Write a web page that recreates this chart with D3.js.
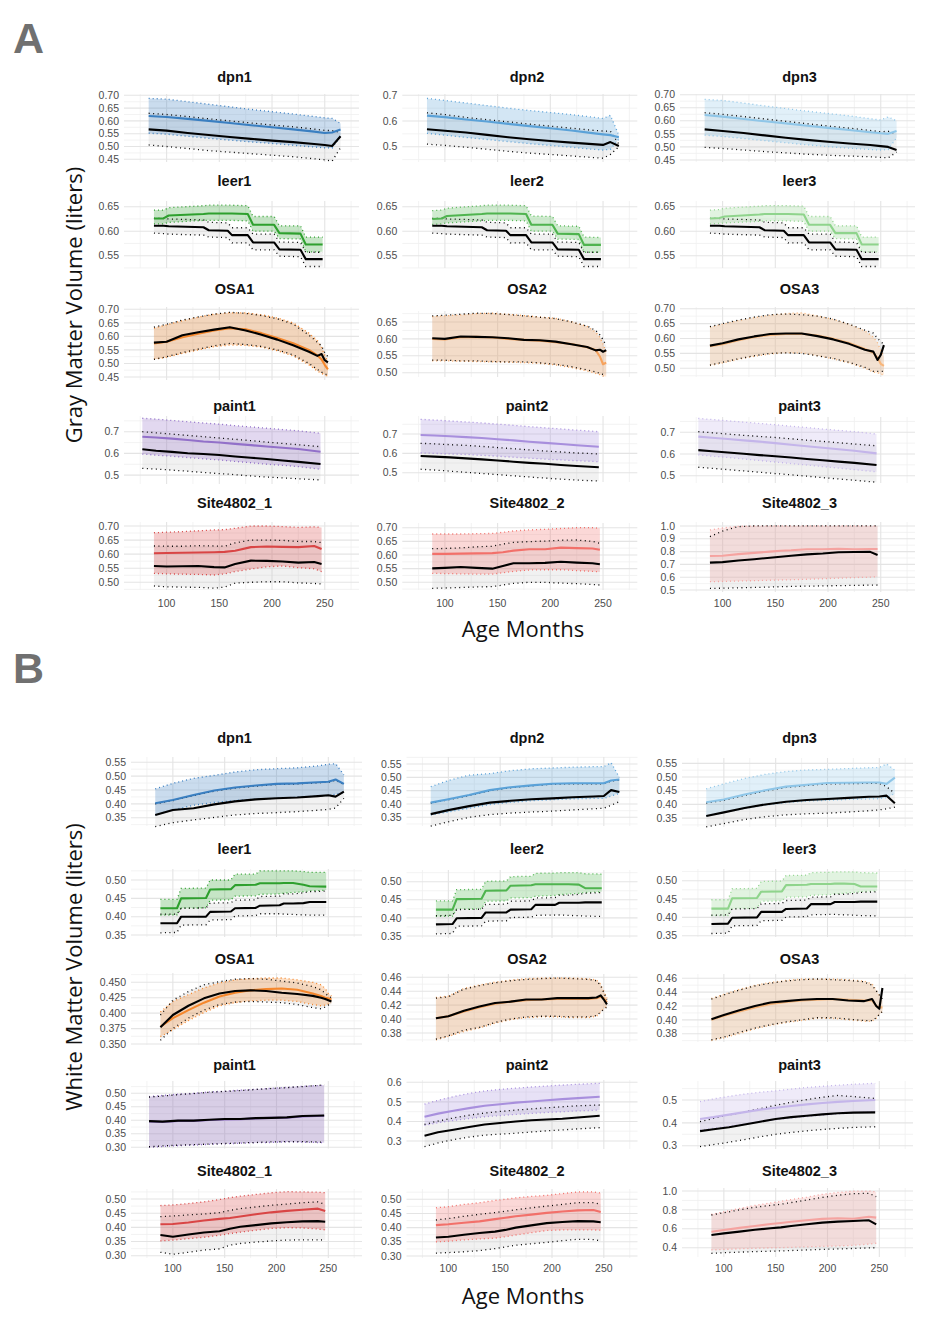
<!DOCTYPE html>
<html>
<head>
<meta charset="utf-8">
<script src="https://cdn.jsdelivr.net/npm/d3@7"></script>
<style>
  body { margin: 0; background: #fff; }
  svg text { font-family: "Liberation Sans", Arial, sans-serif; }
</style>
</head>
<body>
<svg id="chart" width="947" height="1334"></svg>
<script>
// ---------------- data ----------------
const siteNames = ["dpn1", "dpn2", "dpn3", "leer1", "leer2", "leer3", "OSA1", "OSA2", "OSA3",
  "paint1", "paint2", "paint3", "Site4802_1", "Site4802_2", "Site4802_3"];

// ages (months) at which the curves were read, one list per site group
const ageDpn = [83, 100, 120, 140, 160, 180, 200, 220, 240, 250, 257, 265];
const ageLeerGM = [88, 97, 102, 135, 140, 158, 162, 177, 182, 202, 207, 227, 232, 248];
const ageLeerWM = [88, 104, 108, 132, 136, 156, 160, 180, 184, 203, 207, 216, 226, 232, 248];
const ageOsa = [88, 100, 115, 130, 145, 160, 175, 190, 205, 220, 235, 243, 247, 250, 253];
const agePaint = [77, 90, 105, 120, 135, 150, 165, 180, 195, 210, 225, 246];
const ageSite = [88, 100, 115, 130, 145, 155, 165, 180, 195, 210, 225, 240, 247];

// each panel: [site mean, site lower, site upper, reference mean, reference lower, reference upper]
// ---- A: gray matter ----
const gmDpn1 = [
  [0.619, 0.615, 0.608, 0.600, 0.592, 0.583, 0.575, 0.567, 0.558, 0.553, 0.555, 0.566],
  [0.552, 0.548, 0.540, 0.532, 0.525, 0.518, 0.512, 0.505, 0.498, 0.495, 0.494, 0.540],
  [0.688, 0.685, 0.675, 0.665, 0.655, 0.645, 0.636, 0.627, 0.617, 0.612, 0.610, 0.590],
  [0.567, 0.562, 0.553, 0.545, 0.537, 0.530, 0.523, 0.517, 0.510, 0.506, 0.502, 0.540],
  [0.506, 0.500, 0.492, 0.484, 0.478, 0.472, 0.466, 0.460, 0.452, 0.448, 0.443, 0.495],
  [0.630, 0.625, 0.617, 0.608, 0.600, 0.592, 0.584, 0.577, 0.568, 0.563, 0.562, 0.555]];
const gmDpn2 = [
  [0.621, 0.615, 0.606, 0.598, 0.589, 0.580, 0.572, 0.563, 0.553, 0.548, 0.545, 0.537],
  [0.552, 0.545, 0.536, 0.528, 0.520, 0.512, 0.505, 0.498, 0.490, 0.487, 0.490, 0.530],
  [0.688, 0.680, 0.670, 0.660, 0.650, 0.641, 0.633, 0.625, 0.615, 0.610, 0.622, 0.545],
  [0.568, 0.562, 0.555, 0.546, 0.537, 0.529, 0.522, 0.516, 0.510, 0.507, 0.518, 0.503],
  [0.510, 0.505, 0.498, 0.490, 0.482, 0.475, 0.470, 0.464, 0.458, 0.455, 0.470, 0.500],
  [0.632, 0.625, 0.614, 0.605, 0.597, 0.588, 0.580, 0.572, 0.564, 0.561, 0.560, 0.510]];
const gmDpn3 = [
  [0.622, 0.616, 0.607, 0.598, 0.590, 0.581, 0.573, 0.565, 0.556, 0.552, 0.550, 0.561],
  [0.545, 0.540, 0.532, 0.524, 0.516, 0.508, 0.501, 0.495, 0.490, 0.488, 0.490, 0.535],
  [0.682, 0.678, 0.668, 0.657, 0.647, 0.637, 0.628, 0.619, 0.608, 0.603, 0.615, 0.600],
  [0.567, 0.561, 0.553, 0.544, 0.535, 0.527, 0.520, 0.513, 0.507, 0.503, 0.500, 0.488],
  [0.498, 0.494, 0.488, 0.482, 0.477, 0.472, 0.468, 0.465, 0.462, 0.460, 0.458, 0.480],
  [0.631, 0.625, 0.616, 0.607, 0.598, 0.589, 0.580, 0.572, 0.563, 0.558, 0.560, 0.550]];
const gmLeer1 = [
  [0.626, 0.626, 0.632, 0.635, 0.636, 0.636, 0.636, 0.635, 0.613, 0.613, 0.596, 0.595, 0.573, 0.573],
  [0.615, 0.615, 0.618, 0.622, 0.622, 0.622, 0.622, 0.621, 0.600, 0.600, 0.585, 0.584, 0.558, 0.558],
  [0.643, 0.643, 0.648, 0.652, 0.653, 0.653, 0.653, 0.652, 0.630, 0.630, 0.611, 0.611, 0.588, 0.588],
  [0.611, 0.611, 0.610, 0.608, 0.602, 0.601, 0.592, 0.592, 0.577, 0.577, 0.563, 0.562, 0.543, 0.543],
  [0.596, 0.595, 0.594, 0.592, 0.588, 0.587, 0.576, 0.576, 0.562, 0.562, 0.549, 0.548, 0.528, 0.528],
  [0.626, 0.626, 0.625, 0.623, 0.618, 0.617, 0.607, 0.607, 0.594, 0.594, 0.578, 0.577, 0.557, 0.557]];
const gmLeer2 = [
  [0.625, 0.626, 0.631, 0.635, 0.636, 0.636, 0.636, 0.635, 0.613, 0.613, 0.595, 0.594, 0.572, 0.572],
  [0.614, 0.615, 0.617, 0.621, 0.622, 0.622, 0.622, 0.621, 0.600, 0.600, 0.584, 0.583, 0.557, 0.557],
  [0.642, 0.643, 0.647, 0.652, 0.653, 0.653, 0.653, 0.652, 0.631, 0.630, 0.611, 0.610, 0.588, 0.587],
  [0.611, 0.611, 0.610, 0.608, 0.602, 0.601, 0.592, 0.592, 0.577, 0.577, 0.563, 0.562, 0.543, 0.543],
  [0.596, 0.595, 0.594, 0.592, 0.588, 0.587, 0.576, 0.576, 0.562, 0.562, 0.549, 0.548, 0.528, 0.528],
  [0.626, 0.626, 0.625, 0.623, 0.618, 0.617, 0.607, 0.607, 0.594, 0.594, 0.578, 0.577, 0.557, 0.557]];
const gmLeer3 = [
  [0.626, 0.627, 0.630, 0.634, 0.635, 0.635, 0.635, 0.634, 0.613, 0.613, 0.596, 0.596, 0.573, 0.573],
  [0.615, 0.616, 0.617, 0.620, 0.621, 0.621, 0.621, 0.620, 0.600, 0.600, 0.585, 0.584, 0.558, 0.558],
  [0.643, 0.644, 0.647, 0.651, 0.652, 0.652, 0.652, 0.651, 0.630, 0.630, 0.611, 0.611, 0.588, 0.588],
  [0.611, 0.611, 0.610, 0.608, 0.602, 0.601, 0.592, 0.592, 0.577, 0.577, 0.563, 0.562, 0.543, 0.543],
  [0.596, 0.595, 0.594, 0.592, 0.588, 0.587, 0.576, 0.576, 0.562, 0.562, 0.549, 0.548, 0.528, 0.528],
  [0.626, 0.626, 0.625, 0.623, 0.618, 0.617, 0.607, 0.607, 0.594, 0.594, 0.578, 0.577, 0.557, 0.557]];
const gmOsa1 = [
  [0.574, 0.580, 0.597, 0.610, 0.622, 0.630, 0.626, 0.612, 0.594, 0.575, 0.550, 0.530, 0.515, 0.495, 0.478],
  [0.515, 0.523, 0.537, 0.550, 0.562, 0.568, 0.567, 0.560, 0.547, 0.528, 0.495, 0.472, 0.463, 0.458, 0.452],
  [0.630, 0.643, 0.658, 0.671, 0.682, 0.687, 0.687, 0.680, 0.668, 0.650, 0.612, 0.585, 0.560, 0.530, 0.505],
  [0.577, 0.580, 0.604, 0.615, 0.625, 0.634, 0.622, 0.606, 0.588, 0.567, 0.543, 0.528, 0.535, 0.512, 0.504],
  [0.515, 0.525, 0.540, 0.553, 0.565, 0.574, 0.570, 0.563, 0.550, 0.532, 0.500, 0.478, 0.468, 0.462, 0.457],
  [0.634, 0.645, 0.660, 0.672, 0.682, 0.689, 0.685, 0.677, 0.665, 0.645, 0.605, 0.578, 0.565, 0.540, 0.525]];
const gmOsa2 = [
  [0.600, 0.598, 0.605, 0.606, 0.604, 0.600, 0.597, 0.595, 0.590, 0.585, 0.575, 0.567, 0.548, 0.525, 0.530],
  [0.535, 0.535, 0.534, 0.533, 0.532, 0.531, 0.530, 0.527, 0.523, 0.515, 0.505, 0.498, 0.494, 0.490, 0.488],
  [0.666, 0.668, 0.671, 0.675, 0.676, 0.673, 0.669, 0.665, 0.661, 0.651, 0.637, 0.620, 0.605, 0.585, 0.560],
  [0.602, 0.600, 0.607, 0.606, 0.605, 0.602, 0.597, 0.596, 0.592, 0.584, 0.576, 0.566, 0.568, 0.562, 0.567],
  [0.537, 0.537, 0.535, 0.535, 0.533, 0.532, 0.532, 0.529, 0.525, 0.518, 0.508, 0.502, 0.498, 0.495, 0.495],
  [0.668, 0.670, 0.673, 0.676, 0.675, 0.672, 0.668, 0.664, 0.660, 0.650, 0.638, 0.625, 0.612, 0.598, 0.580]];
const gmOsa3 = [
  [0.574, 0.581, 0.594, 0.605, 0.612, 0.615, 0.616, 0.610, 0.599, 0.585, 0.565, 0.552, 0.535, 0.515, 0.508],
  [0.509, 0.518, 0.530, 0.540, 0.548, 0.552, 0.552, 0.542, 0.532, 0.518, 0.500, 0.487, 0.485, 0.480, 0.478],
  [0.638, 0.648, 0.660, 0.670, 0.678, 0.684, 0.686, 0.676, 0.664, 0.648, 0.625, 0.605, 0.585, 0.560, 0.540],
  [0.576, 0.584, 0.597, 0.607, 0.615, 0.617, 0.617, 0.608, 0.597, 0.582, 0.562, 0.556, 0.528, 0.545, 0.578],
  [0.511, 0.520, 0.532, 0.542, 0.550, 0.552, 0.550, 0.542, 0.533, 0.520, 0.503, 0.490, 0.490, 0.490, 0.490],
  [0.640, 0.650, 0.662, 0.672, 0.680, 0.682, 0.680, 0.675, 0.665, 0.648, 0.628, 0.618, 0.600, 0.590, 0.580]];
const gmPaint1 = [
  [0.677, 0.673, 0.668, 0.662, 0.655, 0.650, 0.644, 0.638, 0.632, 0.626, 0.620, 0.608],
  [0.597, 0.592, 0.587, 0.581, 0.575, 0.570, 0.563, 0.557, 0.550, 0.545, 0.539, 0.527],
  [0.762, 0.758, 0.752, 0.746, 0.740, 0.735, 0.728, 0.722, 0.716, 0.710, 0.704, 0.693],
  [0.619, 0.612, 0.607, 0.601, 0.597, 0.593, 0.586, 0.580, 0.574, 0.567, 0.561, 0.551],
  [0.531, 0.528, 0.523, 0.518, 0.512, 0.507, 0.502, 0.496, 0.491, 0.487, 0.483, 0.478],
  [0.700, 0.695, 0.689, 0.683, 0.677, 0.671, 0.665, 0.659, 0.652, 0.646, 0.640, 0.631]];
const gmPaint2 = [
  [0.695, 0.692, 0.688, 0.684, 0.679, 0.673, 0.667, 0.660, 0.654, 0.648, 0.642, 0.634],
  [0.602, 0.600, 0.597, 0.594, 0.590, 0.585, 0.580, 0.575, 0.570, 0.566, 0.562, 0.557],
  [0.776, 0.772, 0.767, 0.762, 0.757, 0.751, 0.745, 0.738, 0.732, 0.726, 0.720, 0.712],
  [0.586, 0.583, 0.579, 0.574, 0.569, 0.563, 0.557, 0.551, 0.546, 0.540, 0.535, 0.528],
  [0.518, 0.514, 0.508, 0.502, 0.496, 0.490, 0.484, 0.478, 0.472, 0.467, 0.462, 0.457],
  [0.652, 0.649, 0.645, 0.641, 0.636, 0.630, 0.624, 0.618, 0.612, 0.607, 0.602, 0.597]];
const gmPaint3 = [
  [0.680, 0.675, 0.669, 0.663, 0.657, 0.650, 0.643, 0.636, 0.629, 0.622, 0.615, 0.603],
  [0.596, 0.590, 0.584, 0.577, 0.570, 0.563, 0.556, 0.549, 0.542, 0.535, 0.528, 0.518],
  [0.764, 0.759, 0.753, 0.747, 0.741, 0.735, 0.728, 0.722, 0.715, 0.709, 0.703, 0.692],
  [0.618, 0.613, 0.607, 0.601, 0.595, 0.590, 0.584, 0.577, 0.571, 0.565, 0.559, 0.549],
  [0.539, 0.534, 0.528, 0.522, 0.516, 0.510, 0.504, 0.498, 0.491, 0.485, 0.479, 0.470],
  [0.703, 0.698, 0.692, 0.686, 0.681, 0.676, 0.670, 0.664, 0.658, 0.652, 0.646, 0.638]];
const gmSite1 = [
  [0.603, 0.604, 0.605, 0.606, 0.607, 0.608, 0.612, 0.625, 0.627, 0.626, 0.625, 0.629, 0.618],
  [0.532, 0.530, 0.529, 0.528, 0.526, 0.530, 0.538, 0.547, 0.555, 0.558, 0.552, 0.548, 0.538],
  [0.676, 0.678, 0.680, 0.683, 0.686, 0.687, 0.692, 0.700, 0.700, 0.698, 0.695, 0.697, 0.695],
  [0.558, 0.556, 0.557, 0.558, 0.554, 0.553, 0.565, 0.577, 0.576, 0.574, 0.570, 0.572, 0.565],
  [0.487, 0.484, 0.483, 0.482, 0.479, 0.483, 0.497, 0.500, 0.502, 0.502, 0.498, 0.496, 0.494],
  [0.629, 0.628, 0.628, 0.630, 0.629, 0.628, 0.640, 0.650, 0.650, 0.649, 0.645, 0.645, 0.641]];
const gmSite2 = [
  [0.604, 0.604, 0.605, 0.606, 0.607, 0.610, 0.616, 0.621, 0.621, 0.627, 0.625, 0.624, 0.619],
  [0.533, 0.532, 0.531, 0.530, 0.530, 0.535, 0.540, 0.545, 0.546, 0.546, 0.543, 0.540, 0.538],
  [0.677, 0.677, 0.677, 0.678, 0.679, 0.683, 0.688, 0.692, 0.694, 0.697, 0.700, 0.700, 0.698],
  [0.551, 0.553, 0.556, 0.553, 0.550, 0.560, 0.570, 0.570, 0.571, 0.575, 0.572, 0.570, 0.566],
  [0.478, 0.479, 0.481, 0.483, 0.484, 0.490, 0.496, 0.500, 0.500, 0.497, 0.495, 0.492, 0.490],
  [0.623, 0.624, 0.626, 0.630, 0.632, 0.640, 0.646, 0.649, 0.651, 0.654, 0.655, 0.650, 0.643]];
const gmSite3 = [
  [0.766, 0.768, 0.780, 0.790, 0.800, 0.807, 0.810, 0.818, 0.818, 0.822, 0.818, 0.820, 0.820],
  [0.565, 0.567, 0.570, 0.573, 0.576, 0.578, 0.580, 0.584, 0.588, 0.592, 0.597, 0.600, 0.604],
  [0.969, 0.985, 0.997, 1.000, 1.000, 1.000, 1.000, 1.000, 1.000, 1.000, 1.000, 1.000, 1.000],
  [0.714, 0.718, 0.730, 0.740, 0.752, 0.760, 0.768, 0.778, 0.785, 0.795, 0.797, 0.798, 0.773],
  [0.513, 0.514, 0.517, 0.520, 0.523, 0.526, 0.528, 0.530, 0.532, 0.534, 0.536, 0.538, 0.539],
  [0.917, 0.960, 0.995, 1.000, 1.000, 1.000, 1.000, 1.000, 1.000, 1.000, 1.000, 1.000, 1.000]];

// ---- B: white matter ----
const wmDpn1 = [
  [0.402, 0.414, 0.432, 0.448, 0.459, 0.466, 0.472, 0.474, 0.478, 0.480, 0.488, 0.472],
  [0.360, 0.378, 0.395, 0.405, 0.412, 0.417, 0.420, 0.424, 0.428, 0.430, 0.435, 0.440],
  [0.454, 0.474, 0.492, 0.503, 0.515, 0.523, 0.527, 0.530, 0.537, 0.543, 0.545, 0.505],
  [0.360, 0.378, 0.384, 0.398, 0.409, 0.416, 0.420, 0.423, 0.428, 0.431, 0.426, 0.444],
  [0.318, 0.332, 0.342, 0.351, 0.360, 0.365, 0.368, 0.372, 0.377, 0.380, 0.385, 0.420],
  [0.400, 0.412, 0.430, 0.446, 0.457, 0.464, 0.470, 0.472, 0.476, 0.478, 0.485, 0.470]];
const wmDpn2 = [
  [0.405, 0.418, 0.434, 0.452, 0.463, 0.470, 0.476, 0.478, 0.478, 0.478, 0.488, 0.492],
  [0.359, 0.370, 0.384, 0.398, 0.406, 0.412, 0.416, 0.419, 0.421, 0.421, 0.430, 0.440],
  [0.465, 0.488, 0.508, 0.514, 0.525, 0.532, 0.535, 0.538, 0.540, 0.540, 0.555, 0.500],
  [0.362, 0.377, 0.392, 0.405, 0.412, 0.418, 0.421, 0.425, 0.428, 0.430, 0.452, 0.445],
  [0.317, 0.333, 0.350, 0.360, 0.366, 0.370, 0.373, 0.378, 0.382, 0.384, 0.395, 0.409],
  [0.403, 0.416, 0.432, 0.450, 0.461, 0.468, 0.474, 0.476, 0.476, 0.476, 0.486, 0.490]];
const wmDpn3 = [
  [0.408, 0.418, 0.436, 0.452, 0.465, 0.472, 0.478, 0.479, 0.480, 0.480, 0.475, 0.498],
  [0.358, 0.370, 0.385, 0.397, 0.406, 0.412, 0.415, 0.418, 0.420, 0.421, 0.425, 0.440],
  [0.457, 0.475, 0.495, 0.510, 0.520, 0.526, 0.528, 0.531, 0.534, 0.535, 0.548, 0.525],
  [0.358, 0.371, 0.387, 0.400, 0.410, 0.416, 0.420, 0.424, 0.428, 0.429, 0.432, 0.404],
  [0.318, 0.330, 0.345, 0.355, 0.362, 0.366, 0.368, 0.372, 0.377, 0.380, 0.384, 0.390],
  [0.405, 0.415, 0.433, 0.449, 0.462, 0.469, 0.475, 0.476, 0.477, 0.477, 0.465, 0.440]];
const wmLeer1 = [
  [0.423, 0.423, 0.450, 0.451, 0.474, 0.475, 0.486, 0.487, 0.491, 0.491, 0.492, 0.492, 0.487, 0.483, 0.482],
  [0.404, 0.405, 0.423, 0.424, 0.445, 0.446, 0.456, 0.457, 0.461, 0.462, 0.464, 0.466, 0.468, 0.470, 0.472],
  [0.447, 0.447, 0.477, 0.478, 0.500, 0.500, 0.516, 0.516, 0.525, 0.525, 0.525, 0.525, 0.523, 0.521, 0.521],
  [0.382, 0.382, 0.400, 0.400, 0.413, 0.414, 0.423, 0.424, 0.430, 0.431, 0.436, 0.436, 0.437, 0.440, 0.440],
  [0.356, 0.357, 0.377, 0.378, 0.391, 0.392, 0.402, 0.403, 0.408, 0.408, 0.407, 0.406, 0.405, 0.404, 0.404],
  [0.407, 0.407, 0.423, 0.424, 0.437, 0.438, 0.445, 0.446, 0.455, 0.456, 0.462, 0.462, 0.465, 0.468, 0.470]];
const wmLeer2 = [
  [0.423, 0.423, 0.452, 0.453, 0.475, 0.476, 0.489, 0.490, 0.493, 0.493, 0.493, 0.493, 0.492, 0.482, 0.482],
  [0.404, 0.405, 0.424, 0.425, 0.446, 0.447, 0.455, 0.456, 0.460, 0.462, 0.464, 0.466, 0.468, 0.470, 0.472],
  [0.447, 0.447, 0.478, 0.479, 0.501, 0.502, 0.514, 0.515, 0.523, 0.524, 0.525, 0.525, 0.525, 0.522, 0.521],
  [0.382, 0.383, 0.399, 0.400, 0.415, 0.415, 0.423, 0.424, 0.436, 0.436, 0.442, 0.442, 0.442, 0.443, 0.443],
  [0.356, 0.357, 0.377, 0.378, 0.391, 0.392, 0.401, 0.402, 0.407, 0.408, 0.408, 0.407, 0.406, 0.405, 0.404],
  [0.406, 0.407, 0.423, 0.424, 0.437, 0.438, 0.446, 0.447, 0.455, 0.456, 0.463, 0.463, 0.465, 0.468, 0.470]];
const wmLeer3 = [
  [0.424, 0.424, 0.452, 0.453, 0.470, 0.471, 0.488, 0.489, 0.491, 0.491, 0.492, 0.492, 0.491, 0.484, 0.484],
  [0.405, 0.405, 0.424, 0.425, 0.444, 0.445, 0.455, 0.456, 0.460, 0.462, 0.464, 0.466, 0.468, 0.470, 0.472],
  [0.448, 0.448, 0.478, 0.479, 0.498, 0.499, 0.514, 0.515, 0.522, 0.523, 0.524, 0.524, 0.524, 0.522, 0.521],
  [0.382, 0.383, 0.399, 0.400, 0.415, 0.415, 0.423, 0.424, 0.436, 0.436, 0.442, 0.442, 0.442, 0.443, 0.443],
  [0.356, 0.357, 0.377, 0.378, 0.391, 0.392, 0.401, 0.402, 0.407, 0.408, 0.408, 0.407, 0.406, 0.405, 0.404],
  [0.406, 0.407, 0.423, 0.424, 0.437, 0.438, 0.446, 0.447, 0.455, 0.456, 0.463, 0.463, 0.465, 0.468, 0.470]];
const wmOsa1 = [
  [0.378, 0.392, 0.405, 0.417, 0.427, 0.433, 0.437, 0.439, 0.440, 0.438, 0.432, 0.428, 0.425, 0.424, 0.422],
  [0.362, 0.373, 0.388, 0.401, 0.412, 0.417, 0.420, 0.421, 0.421, 0.419, 0.414, 0.412, 0.413, 0.415, 0.416],
  [0.402, 0.419, 0.430, 0.441, 0.449, 0.454, 0.456, 0.457, 0.457, 0.454, 0.450, 0.446, 0.440, 0.432, 0.428],
  [0.377, 0.397, 0.412, 0.424, 0.432, 0.436, 0.437, 0.436, 0.433, 0.431, 0.428, 0.425, 0.423, 0.421, 0.419],
  [0.356, 0.375, 0.392, 0.405, 0.414, 0.418, 0.419, 0.418, 0.417, 0.414, 0.409, 0.407, 0.410, 0.413, 0.414],
  [0.397, 0.421, 0.435, 0.446, 0.451, 0.455, 0.456, 0.455, 0.452, 0.449, 0.443, 0.438, 0.432, 0.428, 0.425]];
const wmOsa2 = [
  [0.401, 0.404, 0.411, 0.417, 0.422, 0.425, 0.427, 0.428, 0.429, 0.429, 0.429, 0.430, 0.432, 0.430, 0.424],
  [0.370, 0.375, 0.382, 0.387, 0.394, 0.399, 0.402, 0.403, 0.403, 0.402, 0.402, 0.404, 0.410, 0.415, 0.418],
  [0.431, 0.433, 0.444, 0.449, 0.453, 0.456, 0.458, 0.459, 0.459, 0.459, 0.458, 0.456, 0.450, 0.440, 0.430],
  [0.401, 0.404, 0.412, 0.418, 0.423, 0.425, 0.428, 0.428, 0.430, 0.430, 0.430, 0.431, 0.434, 0.428, 0.421],
  [0.371, 0.376, 0.384, 0.388, 0.395, 0.400, 0.403, 0.404, 0.404, 0.403, 0.403, 0.405, 0.410, 0.414, 0.417],
  [0.430, 0.432, 0.443, 0.448, 0.452, 0.455, 0.457, 0.458, 0.459, 0.458, 0.457, 0.455, 0.448, 0.438, 0.428]];
const wmOsa3 = [
  [0.400, 0.406, 0.412, 0.418, 0.423, 0.426, 0.428, 0.429, 0.430, 0.429, 0.428, 0.428, 0.420, 0.418, 0.418],
  [0.370, 0.374, 0.380, 0.387, 0.392, 0.396, 0.399, 0.402, 0.402, 0.400, 0.398, 0.398, 0.402, 0.408, 0.412],
  [0.431, 0.437, 0.444, 0.450, 0.454, 0.457, 0.459, 0.459, 0.459, 0.458, 0.456, 0.452, 0.443, 0.435, 0.428],
  [0.401, 0.407, 0.414, 0.420, 0.425, 0.427, 0.429, 0.430, 0.430, 0.428, 0.427, 0.430, 0.420, 0.416, 0.446],
  [0.371, 0.375, 0.382, 0.388, 0.393, 0.397, 0.400, 0.403, 0.403, 0.401, 0.399, 0.399, 0.403, 0.408, 0.412],
  [0.430, 0.436, 0.443, 0.449, 0.453, 0.456, 0.458, 0.459, 0.458, 0.457, 0.455, 0.450, 0.442, 0.436, 0.430]];
const wmPaint1 = [
  [0.396, 0.394, 0.398, 0.398, 0.401, 0.403, 0.404, 0.407, 0.409, 0.410, 0.414, 0.417],
  [0.300, 0.303, 0.306, 0.308, 0.311, 0.313, 0.315, 0.317, 0.318, 0.320, 0.319, 0.317],
  [0.488, 0.492, 0.497, 0.500, 0.505, 0.508, 0.512, 0.515, 0.519, 0.522, 0.526, 0.530],
  [0.397, 0.395, 0.399, 0.399, 0.402, 0.405, 0.405, 0.408, 0.409, 0.411, 0.416, 0.418],
  [0.302, 0.305, 0.308, 0.310, 0.312, 0.314, 0.316, 0.318, 0.320, 0.321, 0.321, 0.319],
  [0.486, 0.490, 0.495, 0.499, 0.504, 0.507, 0.510, 0.514, 0.518, 0.521, 0.525, 0.531]];
const wmPaint2 = [
  [0.424, 0.440, 0.455, 0.468, 0.480, 0.488, 0.496, 0.502, 0.508, 0.514, 0.519, 0.526],
  [0.380, 0.393, 0.405, 0.415, 0.424, 0.430, 0.436, 0.441, 0.446, 0.450, 0.454, 0.458],
  [0.488, 0.508, 0.527, 0.543, 0.556, 0.564, 0.570, 0.576, 0.581, 0.586, 0.590, 0.595],
  [0.327, 0.345, 0.358, 0.372, 0.384, 0.392, 0.400, 0.406, 0.410, 0.414, 0.420, 0.429],
  [0.271, 0.290, 0.307, 0.320, 0.330, 0.335, 0.340, 0.346, 0.352, 0.357, 0.362, 0.368],
  [0.385, 0.402, 0.418, 0.432, 0.443, 0.451, 0.458, 0.464, 0.470, 0.475, 0.480, 0.484]];
const wmPaint3 = [
  [0.417, 0.425, 0.436, 0.447, 0.458, 0.466, 0.474, 0.481, 0.487, 0.492, 0.496, 0.500],
  [0.369, 0.377, 0.386, 0.396, 0.405, 0.413, 0.420, 0.427, 0.433, 0.439, 0.444, 0.449],
  [0.493, 0.505, 0.516, 0.526, 0.534, 0.540, 0.548, 0.555, 0.560, 0.565, 0.569, 0.573],
  [0.364, 0.372, 0.381, 0.393, 0.405, 0.417, 0.425, 0.431, 0.437, 0.442, 0.445, 0.446],
  [0.296, 0.305, 0.315, 0.327, 0.339, 0.350, 0.358, 0.365, 0.371, 0.376, 0.380, 0.383],
  [0.405, 0.420, 0.435, 0.448, 0.462, 0.477, 0.490, 0.502, 0.512, 0.520, 0.515, 0.507]];
const wmSite1 = [
  [0.411, 0.412, 0.417, 0.424, 0.430, 0.433, 0.438, 0.446, 0.453, 0.458, 0.462, 0.466, 0.458],
  [0.352, 0.355, 0.360, 0.365, 0.372, 0.378, 0.383, 0.390, 0.396, 0.399, 0.398, 0.394, 0.391],
  [0.477, 0.479, 0.484, 0.490, 0.498, 0.505, 0.510, 0.516, 0.522, 0.526, 0.525, 0.524, 0.522],
  [0.373, 0.367, 0.375, 0.382, 0.386, 0.395, 0.402, 0.408, 0.414, 0.418, 0.421, 0.422, 0.420],
  [0.312, 0.305, 0.312, 0.320, 0.324, 0.337, 0.343, 0.348, 0.352, 0.355, 0.356, 0.356, 0.355],
  [0.438, 0.440, 0.444, 0.447, 0.452, 0.460, 0.466, 0.472, 0.478, 0.482, 0.487, 0.490, 0.481]];
const wmSite2 = [
  [0.409, 0.412, 0.417, 0.422, 0.430, 0.435, 0.440, 0.446, 0.452, 0.457, 0.461, 0.462, 0.455],
  [0.350, 0.352, 0.357, 0.360, 0.363, 0.368, 0.374, 0.382, 0.390, 0.392, 0.392, 0.392, 0.391],
  [0.470, 0.474, 0.482, 0.488, 0.496, 0.500, 0.505, 0.510, 0.514, 0.520, 0.526, 0.526, 0.522],
  [0.365, 0.368, 0.375, 0.381, 0.386, 0.392, 0.400, 0.408, 0.416, 0.420, 0.423, 0.422, 0.419],
  [0.310, 0.312, 0.315, 0.319, 0.326, 0.332, 0.338, 0.343, 0.348, 0.354, 0.359, 0.358, 0.353],
  [0.427, 0.432, 0.440, 0.447, 0.453, 0.458, 0.463, 0.470, 0.476, 0.482, 0.488, 0.488, 0.483]];
const wmSite3 = [
  [0.569, 0.587, 0.610, 0.630, 0.650, 0.662, 0.675, 0.690, 0.705, 0.711, 0.706, 0.728, 0.718],
  [0.376, 0.382, 0.388, 0.393, 0.398, 0.401, 0.404, 0.409, 0.414, 0.418, 0.425, 0.438, 0.447],
  [0.753, 0.780, 0.815, 0.848, 0.874, 0.890, 0.910, 0.935, 0.965, 0.985, 0.998, 1.000, 0.990],
  [0.534, 0.552, 0.570, 0.590, 0.605, 0.615, 0.630, 0.648, 0.665, 0.676, 0.682, 0.690, 0.647],
  [0.341, 0.347, 0.353, 0.359, 0.363, 0.366, 0.370, 0.376, 0.382, 0.387, 0.392, 0.398, 0.400],
  [0.746, 0.770, 0.800, 0.828, 0.848, 0.860, 0.878, 0.905, 0.932, 0.955, 0.972, 0.975, 0.940]];

// y tick values per panel (same order as siteNames)
const gmTicks = [
  [0.45, 0.50, 0.55, 0.60, 0.65, 0.70], [0.5, 0.6, 0.7], [0.45, 0.50, 0.55, 0.60, 0.65, 0.70],
  [0.55, 0.60, 0.65], [0.55, 0.60, 0.65], [0.55, 0.60, 0.65],
  [0.45, 0.50, 0.55, 0.60, 0.65, 0.70], [0.50, 0.55, 0.60, 0.65], [0.50, 0.55, 0.60, 0.65, 0.70],
  [0.5, 0.6, 0.7], [0.5, 0.6, 0.7], [0.5, 0.6, 0.7],
  [0.50, 0.55, 0.60, 0.65, 0.70], [0.50, 0.55, 0.60, 0.65, 0.70], [0.5, 0.6, 0.7, 0.8, 0.9, 1.0]];
const wmTicks = [
  [0.35, 0.40, 0.45, 0.50, 0.55], [0.35, 0.40, 0.45, 0.50, 0.55], [0.35, 0.40, 0.45, 0.50, 0.55],
  [0.35, 0.40, 0.45, 0.50], [0.35, 0.40, 0.45, 0.50], [0.35, 0.40, 0.45, 0.50],
  [0.350, 0.375, 0.400, 0.425, 0.450], [0.38, 0.40, 0.42, 0.44, 0.46], [0.38, 0.40, 0.42, 0.44, 0.46],
  [0.30, 0.35, 0.40, 0.45, 0.50], [0.3, 0.4, 0.5, 0.6], [0.3, 0.4, 0.5],
  [0.30, 0.35, 0.40, 0.45, 0.50], [0.30, 0.35, 0.40, 0.45, 0.50], [0.4, 0.6, 0.8, 1.0]];
const xTicks = [100, 150, 200, 250];
const xMinorTicks = [75, 125, 175, 225, 275];

// ---------------- styling & layout ----------------
const siteColors = ["#3a7fc1", "#5ba2d8", "#8fc6e8", "#2ea02e", "#4fb44f", "#8fd48c",
  "#f5872c", "#f6a25c", "#f8b67a", "#9270c9", "#a88fdd", "#c4b5ea",
  "#d94545", "#f2706a", "#f5a3a0"];
const titleX = [234.5, 527, 799.5];
const xDomain = [59.6, 282.5];

// per panel: [top, bottom, y value at bottom, y value at top]
const gmFrames = [
  [94, 162, 0.4395, 0.7051], [94, 162, 0.4405, 0.7051], [94, 162, 0.4421, 0.7027],
  [201, 268, 0.5249, 0.6616], [201, 268, 0.5249, 0.6616], [201, 268, 0.5249, 0.6616],
  [307, 380, 0.4389, 0.7085], [311, 377, 0.4873, 0.6825], [307, 377, 0.4708, 0.7057],
  [416, 484, 0.4590, 0.7724], [416, 482, 0.4520, 0.7930], [417, 483, 0.4664, 0.7705],
  [522, 590, 0.4727, 0.7142], [523, 590, 0.4718, 0.7172], [522, 592, 0.4844, 1.0310]];
const wmFrames = [
  [757, 826, 0.3200, 0.5691], [757, 826, 0.3174, 0.5763], [758, 827, 0.3175, 0.5696],
  [869, 937, 0.3446, 0.5300], [870, 938, 0.3445, 0.5323], [869, 937, 0.3465, 0.5319],
  [973, 1045, 0.3484, 0.4651], [974, 1042, 0.3670, 0.4647], [974, 1042, 0.3680, 0.4662],
  [1081, 1148.5, 0.2956, 0.5456], [1080, 1149, 0.2592, 0.6118], [1081, 1149, 0.2856, 0.5832],
  [1189, 1258, 0.2919, 0.5353], [1189, 1258, 0.2929, 0.5363], [1188, 1257, 0.3016, 1.0317]];

const figures = [
  {
    label: "A", labelY: 53, yTitle: "Gray Matter Volume (liters)", yTitleY: 305,
    xTitleY: 637, tickLabelY: 606.5, colLeft: [124, 402.3, 680], width: 235,
    titleY: [77.3, 181, 289, 405.5, 502.7],
    ages: [ageDpn, ageLeerGM, ageOsa, agePaint, ageSite],
    series: [gmDpn1, gmDpn2, gmDpn3, gmLeer1, gmLeer2, gmLeer3, gmOsa1, gmOsa2, gmOsa3,
      gmPaint1, gmPaint2, gmPaint3, gmSite1, gmSite2, gmSite3],
    ticks: gmTicks, frames: gmFrames
  },
  {
    label: "B", labelY: 683, yTitle: "White Matter Volume (liters)", yTitleY: 967,
    xTitleY: 1304, tickLabelY: 1272, colLeft: [131, 406.5, 682], width: 231,
    titleY: [738.3, 849.3, 958.5, 1065, 1171],
    ages: [ageDpn, ageLeerWM, ageOsa, agePaint, ageSite],
    series: [wmDpn1, wmDpn2, wmDpn3, wmLeer1, wmLeer2, wmLeer3, wmOsa1, wmOsa2, wmOsa3,
      wmPaint1, wmPaint2, wmPaint3, wmSite1, wmSite2, wmSite3],
    ticks: wmTicks, frames: wmFrames
  }
];

// ---------------- drawing ----------------
const svg = d3.select("#chart");

// number of decimals ggplot would show for a set of breaks
function decimalsFor(ticks) {
  let d = 0;
  ticks.forEach(t => {
    let k = 0;
    while (k < 4 && Math.abs(Math.round(t * Math.pow(10, k)) - t * Math.pow(10, k)) > 1e-6) k++;
    d = Math.max(d, k);
  });
  return d;
}

function minorBreaks(ticks, lo, hi) {
  const step = ticks[1] - ticks[0];
  const out = [];
  for (let i = -1; i < ticks.length; i++) {
    const v = ticks[0] + step * (i + 0.5);
    if (v > lo && v < hi) out.push(v);
  }
  return out;
}

figures.forEach(fig => {
  // panel letter
  svg.append("text")
    .attr("x", 13).attr("y", fig.labelY)
    .attr("font-size", 43).attr("font-weight", "bold")
    .attr("fill", "#707070")
    .text(fig.label);

  // axis titles
  svg.append("text")
    .attr("transform", `translate(82,${fig.yTitleY}) rotate(-90)`)
    .attr("text-anchor", "middle")
    .style("font-family", "'Open Sans', sans-serif")
    .attr("font-size", 22)
    .attr("fill", "#111")
    .text(fig.yTitle);

  svg.append("text")
    .attr("x", 523).attr("y", fig.xTitleY)
    .attr("text-anchor", "middle")
    .style("font-family", "'Open Sans', sans-serif")
    .attr("font-size", 22)
    .attr("fill", "#111")
    .text("Age Months");

  fig.series.forEach((s, i) => {
    const row = Math.floor(i / 3), col = i % 3;
    const [top, bottom, lo, hi] = fig.frames[i];
    const left = fig.colLeft[col];
    const color = siteColors[i];

    const x = d3.scaleLinear().domain(xDomain).range([left, left + fig.width]);
    const y = d3.scaleLinear().domain([lo, hi]).range([bottom, top]);
    const g = svg.append("g");

    // grid
    const ticks = fig.ticks[i];
    g.selectAll(".yminor").data(minorBreaks(ticks, lo, hi)).enter().append("line")
      .attr("x1", left).attr("x2", left + fig.width)
      .attr("y1", d => y(d)).attr("y2", d => y(d))
      .attr("stroke", "#f0f0f0").attr("stroke-width", 0.8);
    g.selectAll(".xminor").data(xMinorTicks).enter().append("line")
      .attr("x1", d => x(d)).attr("x2", d => x(d))
      .attr("y1", top).attr("y2", bottom)
      .attr("stroke", "#f0f0f0").attr("stroke-width", 0.8);
    g.selectAll(".ymajor").data(ticks).enter().append("line")
      .attr("x1", left).attr("x2", left + fig.width)
      .attr("y1", d => y(d)).attr("y2", d => y(d))
      .attr("stroke", "#e4e4e4").attr("stroke-width", 1.1);
    g.selectAll(".xmajor").data(xTicks).enter().append("line")
      .attr("x1", d => x(d)).attr("x2", d => x(d))
      .attr("y1", top).attr("y2", bottom)
      .attr("stroke", "#e4e4e4").attr("stroke-width", 1.1);

    // y tick labels
    const fmt = d3.format("." + decimalsFor(ticks) + "f");
    g.selectAll(".ylab").data(ticks).enter().append("text")
      .attr("x", left - 5).attr("y", d => y(d)).attr("dy", "0.35em")
      .attr("text-anchor", "end")
      .attr("font-size", 10.5).attr("fill", "#4d4d4d")
      .text(d => fmt(d));

    // x tick labels on bottom row only
    if (row === 4) {
      g.selectAll(".xlab").data(xTicks).enter().append("text")
        .attr("x", d => x(d)).attr("y", fig.tickLabelY)
        .attr("text-anchor", "middle")
        .attr("font-size", 10.5).attr("fill", "#4d4d4d")
        .text(d => d);
    }

    // facet title
    svg.append("text")
      .attr("x", titleX[col]).attr("y", fig.titleY[row]).attr("dy", "0.35em")
      .attr("text-anchor", "middle")
      .attr("font-size", 14.5).attr("font-weight", "bold").attr("fill", "#111")
      .text(siteNames[i]);

    // series
    const ages = fig.ages[row];
    const pts = ages.map((a, k) => ({
      a: a, m: s[0][k], lo: s[1][k], hi: s[2][k], rm: s[3][k], rlo: s[4][k], rhi: s[5][k]
    }));
    const band = (l, h) => d3.area().x(d => x(d.a)).y0(d => y(d[l])).y1(d => y(d[h]));
    const line = k => d3.line().x(d => x(d.a)).y(d => y(d[k]));

    g.append("path").attr("d", band("rlo", "rhi")(pts))
      .attr("fill", "#b8b8b8").attr("fill-opacity", 0.2);
    g.append("path").attr("d", band("lo", "hi")(pts))
      .attr("fill", color).attr("fill-opacity", 0.27);

    ["lo", "hi"].forEach(k => {
      g.append("path").attr("d", line(k)(pts))
        .attr("fill", "none").attr("stroke", color)
        .attr("stroke-width", 1.3).attr("stroke-dasharray", "1,3");
    });
    ["rlo", "rhi"].forEach(k => {
      g.append("path").attr("d", line(k)(pts))
        .attr("fill", "none").attr("stroke", "#000")
        .attr("stroke-width", 1.3).attr("stroke-dasharray", "1,3.5");
    });

    g.append("path").attr("d", line("m")(pts))
      .attr("fill", "none").attr("stroke", color).attr("stroke-width", 2.1)
      .attr("stroke-linejoin", "round");
    g.append("path").attr("d", line("rm")(pts))
      .attr("fill", "none").attr("stroke", "#000").attr("stroke-width", 2.1)
      .attr("stroke-linejoin", "round");
  });
});
</script>
</body>
</html>
